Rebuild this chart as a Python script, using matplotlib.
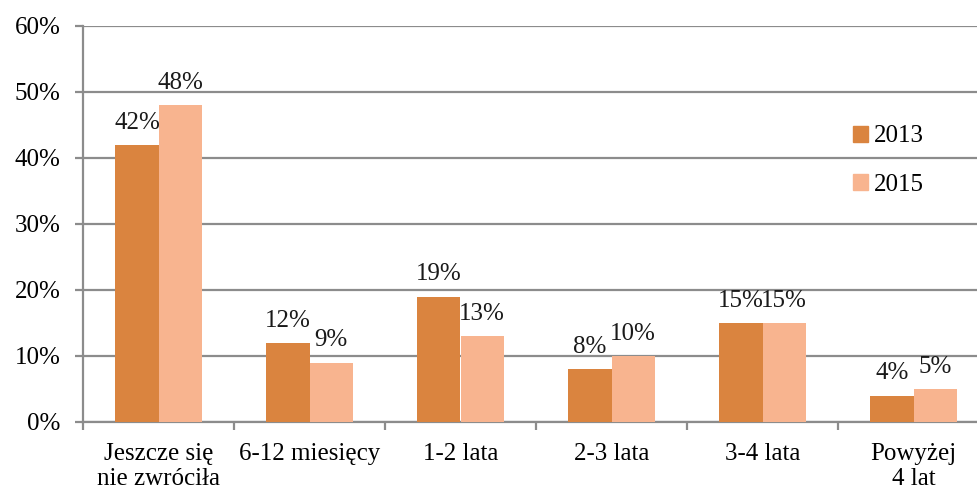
import matplotlib
matplotlib.use("Agg")
import matplotlib.pyplot as plt
import numpy as np
from matplotlib.patches import Patch

categories = ["Jeszcze się\nnie zwróciła", "6-12 miesięcy", "1-2 lata", "2-3 lata", "3-4 lata", "Powyżej\n4 lat"]
values_2013 = [42, 12, 19, 8, 15, 4]
values_2015 = [48, 9, 13, 10, 15, 5]
series_names = ["2013", "2015"]
yticks = [0, 10, 20, 30, 40, 50, 60]

color_2013 = "#DA843F"
color_2015 = "#F8B48F"
grid_color = "#8C8C8C"
fs = 18

plt.rcParams["font.family"] = ["Liberation Serif", "DejaVu Serif"]

W, H = 977, 492
fig = plt.figure(figsize=(W / 100, H / 100), dpi=100)
left, right, bottom, top = 83, 989, 422, 26
ax = fig.add_axes([left / W, 1 - bottom / H, (right - left) / W, (bottom - top) / H])

x = np.arange(len(categories))
bw = 0.285
b1 = ax.bar(x - bw / 2, values_2013, bw, color=color_2013, zorder=3)
b2 = ax.bar(x + bw / 2, values_2015, bw, color=color_2015, zorder=3)

for bars, vals in ((b1, values_2013), (b2, values_2015)):
    for rect, v in zip(bars, vals):
        ax.annotate(f"{v}%", (rect.get_x() + rect.get_width() / 2, v),
                    xytext=(0, 8), textcoords="offset points",
                    ha="center", va="bottom", fontsize=fs, color="#1a1a1a")

ax.set_xlim(-0.5, len(categories) - 0.5)
ax.set_ylim(0, 60)
ax.set_yticks(yticks)
ax.set_yticklabels([f"{t}%" for t in yticks])
ax.yaxis.grid(True, color=grid_color, linewidth=1.6, zorder=0)
ax.set_axisbelow(True)

ax.set_xticks(x)
ax.set_xticklabels(categories, fontsize=fs, linespacing=1.2)
ax.set_xticks(np.arange(-0.5, len(categories)), minor=True)
ax.tick_params(axis="x", which="major", length=0, pad=15)
ax.tick_params(axis="x", which="minor", length=6, width=1.6, color=grid_color)
ax.tick_params(axis="y", length=6, width=1.6, color=grid_color, labelsize=fs, pad=10)

for s in ("top", "right"):
    ax.spines[s].set_visible(False)
for s in ("left", "bottom"):
    ax.spines[s].set_color(grid_color)
    ax.spines[s].set_linewidth(1.6)

handles = [Patch(color=color_2013), Patch(color=color_2015)]
leg = fig.legend(handles, series_names, loc="upper left",
                 bbox_to_anchor=(830 / W, 1 - 103 / H), frameon=False,
                 fontsize=fs, handlelength=0.6, handleheight=0.6,
                 handletextpad=0.25, labelspacing=1.05)

fig.savefig("out.png", dpi=100)
